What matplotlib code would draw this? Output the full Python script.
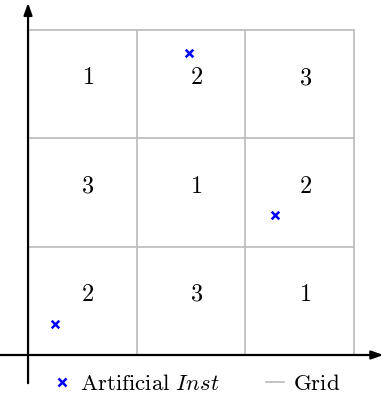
import matplotlib
matplotlib.use("Agg")
import matplotlib.pyplot as plt
from matplotlib.lines import Line2D

plt.rcParams['mathtext.fontset'] = 'cm'
plt.rcParams['font.family'] = 'serif'
plt.rcParams['font.serif'] = ['DejaVu Serif']

# Data
grid_size = 3
cell_labels = [  # rows from bottom to top
    [2, 3, 1],
    [3, 1, 2],
    [1, 2, 3],
]
inst_x = [0.25, 1.48, 2.27]
inst_y = [0.29, 2.79, 1.29]
legend_labels = [r'$\mathrm{Artificial}\ \mathit{Inst}$', r'$\mathrm{Grid}$']

fig = plt.figure(figsize=(3.84, 3.94), dpi=100)
ax = fig.add_axes([0, 0, 1, 1])
ax.set_xlim(-0.258, 3.276)
ax.set_ylim(-0.36, 3.277)
ax.axis('off')

grid_color = '#bfbfbf'
for k in range(1, grid_size + 1):
    ax.plot([k, k], [0, grid_size], color=grid_color, lw=1.3, zorder=1)
    ax.plot([0, grid_size], [k, k], color=grid_color, lw=1.3, zorder=1)

for r, row in enumerate(cell_labels):
    for c, v in enumerate(row):
        ax.text(c + 0.55, r + 0.56, f'${v}$', ha='center', va='center', fontsize=17.5, zorder=3)

ax.scatter(inst_x, inst_y, marker='x', color='blue', s=30, linewidths=1.8, zorder=4)

# axes with arrows
ax.annotate('', xy=(3.27, 0), xytext=(-0.26, 0),
            arrowprops=dict(arrowstyle='-|>,head_length=0.7,head_width=0.25', lw=1.6, color='black',
                            shrinkA=0, shrinkB=0), zorder=5)
ax.annotate('', xy=(0, 3.25), xytext=(0, -0.26),
            arrowprops=dict(arrowstyle='-|>,head_length=0.7,head_width=0.25', lw=1.6, color='black',
                            shrinkA=0, shrinkB=0), zorder=5)

handles = [
    Line2D([], [], marker='x', color='blue', ls='none', markersize=6, markeredgewidth=1.8),
    Line2D([], [], color=grid_color, lw=1.3),
]
leg = ax.legend(handles, legend_labels, loc='center', bbox_to_anchor=(0.512, 0.026),
                ncol=2, frameon=False, fontsize=16.5, handlelength=0.79, handletextpad=0.4,
                columnspacing=2.0, borderpad=0)

fig.savefig('out.png', dpi=100)
